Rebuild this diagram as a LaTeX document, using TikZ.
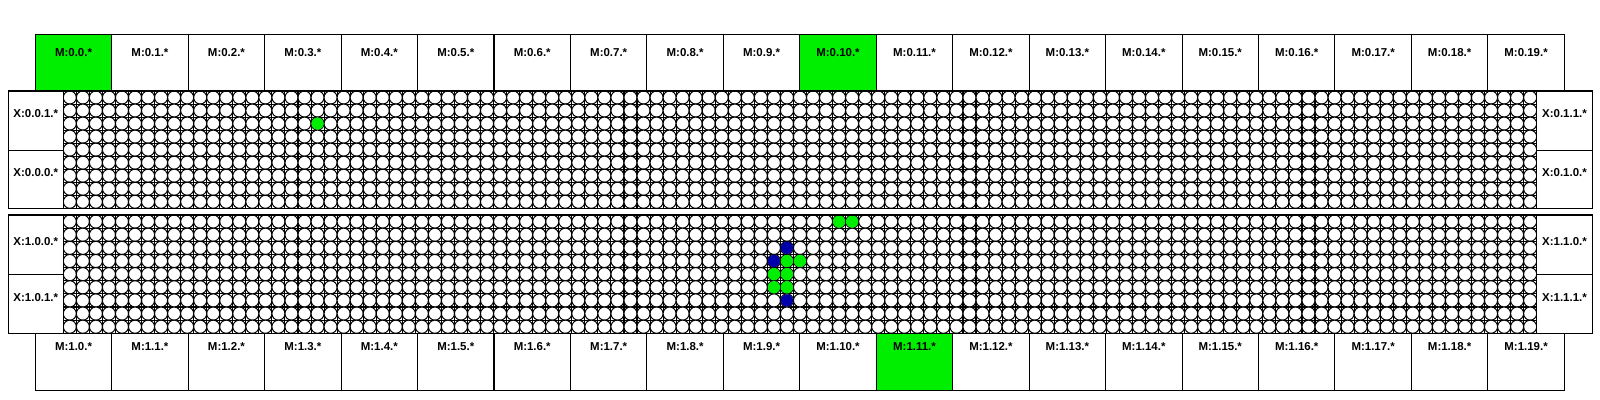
\documentclass[tikz,border=0pt]{standalone}
\usepackage{fontspec}
\setmainfont{Liberation Sans}
\usetikzlibrary{fit}
\definecolor{limeg}{RGB}{0,238,0}
\definecolor{navyb}{RGB}{0,0,170}
\tikzset{
  box/.style={draw=black, line width=0.8pt, rectangle, inner sep=0pt, outer sep=0pt},
  lbl/.style={font=\fontsize{8.6}{10}\selectfont\bfseries, inner sep=0pt},
  gline/.style={draw=black, line width=0.8pt},
  cell/.style={draw=black, fill=white, line width=0.75pt},
  dotg/.style={fill=limeg},
  dotb/.style={fill=navyb},
}
\begin{document}
\begin{tikzpicture}[x=0.75pt,y=-0.75pt]
\useasboundingbox (0,0) rectangle (1600,400);

% ---------- upper grid ----------
\begin{scope}[shift={(63.3,91)}, x=9.779pt, y=-9.775pt]
  \foreach \i in {0,...,113} \draw[gline] (\i,0) -- (\i,9);
  \foreach \j in {0,...,9} \draw[gline] (0,\j) -- (113,\j);
  \foreach \i in {0,...,112} \foreach \j in {0,...,8}
    \draw[cell] (\i+0.5,\j+0.5) circle[radius=0.5];
  \fill[dotg] (19.5,2.5) circle[radius=0.47];
\end{scope}

% ---------- lower grid ----------
\begin{scope}[shift={(63.3,215)}, x=9.779pt, y=-9.858pt]
  \foreach \i in {0,...,113} \draw[gline] (\i,0) -- (\i,9);
  \foreach \j in {0,...,9} \draw[gline] (0,\j) -- (113,\j);
  \foreach \i in {0,...,112} \foreach \j in {0,...,8}
    \draw[cell] (\i+0.5,\j+0.5) circle[radius=0.5];
  \foreach \c/\r in {59/0,60/0,55/3,56/3,54/4,55/4,54/5,55/5}
    \fill[dotg] (\c+0.5,\r+0.5) circle[radius=0.47];
  \foreach \c/\r in {55/2,54/3,55/6}
    \fill[dotb] (\c+0.5,\r+0.5) circle[radius=0.47];
\end{scope}

% ---------- region frames ----------
\draw[box] (8.3,91) rectangle (1592.3,208.3);
\draw[box] (8.3,215) rectangle (1592.3,333.3);

% ---------- X boxes ----------
\node[box, fill=white, fit={(8.3,91) (63.3,150.3)}] (x001) {};
\node[box, fill=white, fit={(8.3,150.3) (63.3,208.3)}] (x000) {};
\node[box, fill=white, fit={(1536.7,91) (1592.3,150.3)}] (x011) {};
\node[box, fill=white, fit={(1536.7,150.3) (1592.3,208.3)}] (x010) {};
\node[box, fill=white, fit={(8.3,215) (63.3,274.3)}] (x100) {};
\node[box, fill=white, fit={(8.3,274.3) (63.3,333.3)}] (x101) {};
\node[box, fill=white, fit={(1536.7,215) (1592.3,274.3)}] (x110) {};
\node[box, fill=white, fit={(1536.7,274.3) (1592.3,333.3)}] (x111) {};

\node[lbl] (lx001) at ([yshift=-16.7pt]x001.north) {X:0.0.1.*};
\node[lbl] (lx000) at ([yshift=-16.6pt]x000.north) {X:0.0.0.*};
\node[lbl] (lx011) at ([yshift=-16.7pt]x011.north) {X:0.1.1.*};
\node[lbl] (lx010) at ([yshift=-16.6pt]x010.north) {X:0.1.0.*};
\node[lbl] (lx100) at ([yshift=-20.1pt]x100.north) {X:1.0.0.*};
\node[lbl] (lx101) at ([yshift=-17.8pt]x101.north) {X:1.0.1.*};
\node[lbl] (lx110) at ([yshift=-20.1pt]x110.north) {X:1.1.0.*};
\node[lbl] (lx111) at ([yshift=-17.8pt]x111.north) {X:1.1.1.*};

% ---------- M boxes ----------
\foreach \i in {0,...,19} {
  \pgfmathsetmacro\xa{35.3+76.45*\i}
  \pgfmathsetmacro\xb{35.3+76.45*(\i+1)}
  \def\ft{white}\def\fb{white}
  \ifnum\i=0 \def\ft{limeg}\fi
  \ifnum\i=10 \def\ft{limeg}\fi
  \ifnum\i=11 \def\fb{limeg}\fi
  \node[box, fill=\ft, fit={(\xa,34.2) (\xb,91)}] (mt\i) {};
  \node[box, fill=\fb, fit={(\xa,333.3) (\xb,390.3)}] (mb\i) {};
  \node[lbl] (lmt\i) at ([yshift=-14.1pt]mt\i.north) {M:0.\i.*};
  \node[lbl] (lmb\i) at ([yshift=-10.0pt]mb\i.north) {M:1.\i.*};
}
\end{tikzpicture}
\end{document}
